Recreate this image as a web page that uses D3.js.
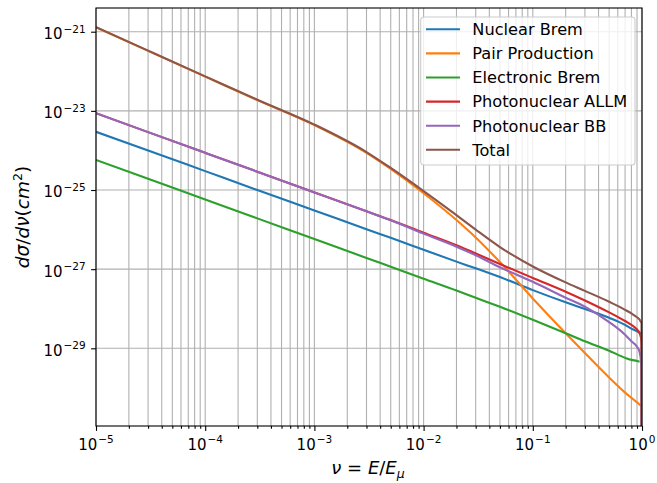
<!DOCTYPE html>
<html>
<head>
<meta charset="utf-8">
<script src="https://cdn.jsdelivr.net/npm/d3@7"></script>
<style>
  body { margin: 0; background: #fff; }
  #chart text { font-family: "DejaVu Sans", sans-serif; fill: #000; }
  .grid line { stroke: #b0b0b0; stroke-width: 1.1; }
  .axis path { display: none; }
  .axis line { stroke: #000; stroke-width: 1.1; }
  .curve { fill: none; stroke-width: 2.1; stroke-linejoin: round; }
</style>
</head>
<body>
<div id="chart"></div>
<script>

// nu = E / E_mu
var nu = [1e-5, 3e-5, 1e-4, 3e-4, 1e-3, 3e-3, 5e-3, 1e-2, 2e-2, 3e-2, 5e-2,
          0.1, 0.2, 0.3, 0.5, 0.7, 0.8, 0.9, 0.95, 0.98, 0.99, 1.0];

// d sigma / d nu in cm^2
var nuclearBrem    = [2.95e-24, 1.0e-24, 3.0e-25, 1.0e-25, 3.05e-26, 1.02e-26, 6.2e-27, 3.1e-27, 1.55e-27, 1.05e-27, 6.3e-28,
                      2.95e-28, 1.45e-28, 9.8e-29, 5.9e-29, 3.9e-29, 3.15e-29, 2.7e-29, 2.5e-29, 2.4e-29, 2.37e-29, 2.35e-29];
var pairProduction = [1.29e-21, 3.28e-22, 7.33e-23, 1.87e-23, 4.37e-24, 8.7e-25, 3.4e-25, 8.3e-26, 1.74e-26, 6.3e-27, 1.51e-27,
                      1.82e-28, 2.4e-29, 7.6e-30, 1.82e-30, 7.6e-31, 5.6e-31, 4.3e-31, 3.8e-31, 3.55e-31, 3.47e-31, 3.4e-31];
var electronicBrem = [5.75e-25, 1.92e-25, 5.75e-26, 1.92e-26, 5.75e-27, 1.92e-27, 1.15e-27, 5.75e-28, 2.9e-28, 1.9e-28, 1.12e-28,
                      5.25e-29, 2.4e-29, 1.5e-29, 8.7e-30, 5.75e-30, 5.1e-30, 4.8e-30, 4.6e-30, null, null, null];
var photoALLM      = [8.7e-24, 2.9e-24, 8.7e-25, 2.9e-25, 8.7e-26, 2.9e-26, 1.74e-26, 8.3e-27, 4.0e-27, 2.5e-27, 1.35e-27,
                      6.0e-28, 2.7e-28, 1.62e-28, 8.1e-29, 4.9e-29, 3.9e-29, 3.0e-29, 2.4e-29, 1.78e-29, 1.2e-29, 1e-45];
var photoBB        = [8.7e-24, 2.9e-24, 8.7e-25, 2.9e-25, 8.7e-26, 2.9e-26, 1.72e-26, 7.9e-27, 3.7e-27, 2.25e-27, 1.12e-27,
                      4.8e-28, 1.9e-28, 1.12e-28, 4.6e-29, 2.2e-29, 1.5e-29, 1.1e-29, 8.1e-30, 4.6e-30, 2.1e-30, 1e-45];
var total          = [1.30e-21, 3.32e-22, 7.45e-23, 1.91e-23, 4.5e-24, 9.1e-25, 3.6e-25, 9.4e-26, 2.32e-26, 1.0e-26, 3.63e-27,
                      1.17e-27, 4.63e-28, 2.83e-28, 1.5e-28, 9.4e-29, 7.6e-29, 6.1e-29, 5.35e-29, 4.6e-29, 4.4e-29, 1e-45];

var seriesLabels = ['Nuclear Brem', 'Pair Production', 'Electronic Brem', 'Photonuclear ALLM', 'Photonuclear BB', 'Total'];
var seriesValues = [nuclearBrem, pairProduction, electronicBrem, photoALLM, photoBB, total];
var seriesColors = ['#1f77b4', '#ff7f0e', '#2ca02c', '#d62728', '#9467bd', '#8c564b'];

var xMajorExp = [-5, -4, -3, -2, -1, 0];
var yMajorExp = [-21, -23, -25, -27, -29];

var CrossSectionChart = function( _id ) {

  var that = this;

  that.id = _id;
  that.widthCont  = 657;
  that.heightCont = 483;
  that.margin = {top: 8, right: 15, bottom: 57, left: 96};

  that.init = function() {

    that.width  = that.widthCont - that.margin.left - that.margin.right;
    that.height = that.heightCont - that.margin.top - that.margin.bottom;

    that.x = d3.scaleLog()
      .domain([1e-5, 1])
      .range([0, that.width]);

    that.y = d3.scaleLog()
      .domain([Math.pow(10, -30.963), Math.pow(10, -20.401)])
      .range([that.height, 0]);

    that.svg = d3.select('#'+that.id).append('svg')
      .attr('width', that.widthCont)
      .attr('height', that.heightCont);

    that.container = that.svg.append('g')
      .attr('transform', 'translate(' + that.margin.left + ',' + that.margin.top + ')');

    that.container.append('clipPath')
      .attr('id', 'plot-clip')
      .append('rect')
      .attr('width', that.width)
      .attr('height', that.height);

    drawGrid();
    drawCurves();
    drawAxes();
    drawLegend();

    return that;
  };

  var xMinor = function() {
    var ticks = [];
    xMajorExp.slice(0, -1).forEach(function(e) {
      for (var m = 2; m < 10; m++) ticks.push(m * Math.pow(10, e));
    });
    return ticks;
  };

  var xMajor = function() { return xMajorExp.map(function(e) { return Math.pow(10, e); }); };
  var yMajor = function() { return yMajorExp.map(function(e) { return Math.pow(10, e); }); };

  var drawGrid = function() {
    var grid = that.container.append('g').attr('class', 'grid');

    grid.selectAll('.vgrid')
      .data(xMajor().concat(xMinor()))
    .enter().append('line')
      .attr('class', 'vgrid')
      .attr('x1', function(d) { return that.x(d); })
      .attr('x2', function(d) { return that.x(d); })
      .attr('y1', 0)
      .attr('y2', that.height);

    grid.selectAll('.hgrid')
      .data(yMajor())
    .enter().append('line')
      .attr('class', 'hgrid')
      .attr('x1', 0)
      .attr('x2', that.width)
      .attr('y1', function(d) { return that.y(d); })
      .attr('y2', function(d) { return that.y(d); });
  };

  var drawCurves = function() {
    var line = d3.line()
      .defined(function(d) { return d.y != null; })
      .x(function(d) { return that.x(d.x); })
      .y(function(d) { return that.y(d.y); })
      .curve(d3.curveMonotoneX);

    var curves = that.container.append('g')
      .attr('clip-path', 'url(#plot-clip)');

    seriesValues.forEach(function(values, i) {
      var pts = nu.map(function(v, j) { return {x: v, y: values[j]}; });
      curves.append('path')
        .attr('class', 'curve')
        .attr('stroke', seriesColors[i])
        .attr('d', line(pts));
    });
  };

  // "10" with a superscript exponent, like matplotlib's log labels
  var powerLabel = function(sel, exp) {
    sel.append('tspan').text('10');
    sel.append('tspan')
      .attr('dx', 1)
      .attr('dy', -6.6)
      .style('font-size', '10.5px')
      .text(exp < 0 ? '\u2212' + Math.abs(exp) : String(exp));
  };

  var drawAxes = function() {
    // frame
    that.container.append('rect')
      .attr('width', that.width)
      .attr('height', that.height)
      .attr('fill', 'none')
      .attr('stroke', '#000')
      .attr('stroke-width', 1.1);

    that.container.append('g')
      .attr('class', 'x axis')
      .attr('transform', 'translate(0,' + that.height + ')')
      .call(d3.axisBottom(that.x).tickValues(xMajor()).tickSize(4.9).tickSizeOuter(0).tickFormat(''));

    that.container.append('g')
      .attr('class', 'x axis minor')
      .attr('transform', 'translate(0,' + that.height + ')')
      .call(d3.axisBottom(that.x).tickValues(xMinor()).tickSize(2.8).tickSizeOuter(0).tickFormat(''));

    that.container.append('g')
      .attr('class', 'y axis')
      .call(d3.axisLeft(that.y).tickValues(yMajor()).tickSize(4.9).tickSizeOuter(0).tickFormat(''));

    that.container.selectAll('.x-label')
      .data(xMajorExp)
    .enter().append('text')
      .attr('class', 'x-label')
      .attr('x', function(d) { return that.x(Math.pow(10, d)); })
      .attr('y', that.height + 24)
      .style('font-size', '15px')
      .style('text-anchor', 'middle')
      .each(function(d) { powerLabel(d3.select(this), d); });

    that.container.selectAll('.y-label')
      .data(yMajorExp)
    .enter().append('text')
      .attr('class', 'y-label')
      .attr('x', -10.3)
      .attr('y', function(d) { return that.y(Math.pow(10, d)) + 7.4; })
      .style('font-size', '15px')
      .style('text-anchor', 'end')
      .each(function(d) { powerLabel(d3.select(this), d); });

    // axis titles
    var xt = that.container.append('text')
      .attr('x', that.width / 2 - 1)
      .attr('y', that.height + 48)
      .style('font-size', '18px')
      .style('text-anchor', 'middle');
    xt.append('tspan').style('font-style', 'italic').text('\u03bd');
    xt.append('tspan').text(' = ');
    xt.append('tspan').style('font-style', 'italic').text('E');
    xt.append('tspan').text('/');
    xt.append('tspan').style('font-style', 'italic').text('E');
    xt.append('tspan').attr('dy', 4).style('font-style', 'italic').style('font-size', '12.5px').text('\u03bc');

    var yt = that.container.append('text')
      .attr('transform', 'translate(' + (29 - that.margin.left) + ',' + (that.height / 2) + ') rotate(-90)')
      .style('font-size', '18.5px')
      .style('text-anchor', 'middle');
    yt.append('tspan').style('font-style', 'italic').text('d\u03c3');
    yt.append('tspan').text('/');
    yt.append('tspan').style('font-style', 'italic').text('d\u03bd');
    yt.append('tspan').text('(');
    yt.append('tspan').style('font-style', 'italic').text('cm');
    yt.append('tspan').attr('dy', -7).style('font-size', '12.5px').text('2');
    yt.append('tspan').attr('dy', 7).text(')');
  };

  var drawLegend = function() {
    var lx = 420.7 - that.margin.left;
    var ly = 17 - that.margin.top;
    var rowH = 24.1;

    var legend = that.container.append('g')
      .attr('class', 'legend')
      .attr('transform', 'translate(' + lx + ',' + ly + ')');

    legend.append('rect')
      .attr('width', 214.3)
      .attr('height', 148)
      .attr('rx', 3.3)
      .attr('fill', '#fff')
      .attr('fill-opacity', 0.8)
      .attr('stroke', '#cccccc')
      .attr('stroke-width', 1.1);

    var rows = legend.selectAll('.legend-row')
      .data(seriesLabels)
    .enter().append('g')
      .attr('class', 'legend-row')
      .attr('transform', function(d, i) { return 'translate(0,' + (12.3 + i * rowH) + ')'; });

    rows.append('line')
      .attr('x1', 5.3)
      .attr('x2', 39.3)
      .attr('stroke', function(d, i) { return seriesColors[i]; })
      .attr('stroke-width', 2.1);

    rows.append('text')
      .attr('x', 51.6)
      .attr('dy', '0.36em')
      .style('font-size', '16.2px')
      .text(function(d) { return d; });
  };

  return that;
};

var chart = new CrossSectionChart('chart').init();

</script>
</body>
</html>
